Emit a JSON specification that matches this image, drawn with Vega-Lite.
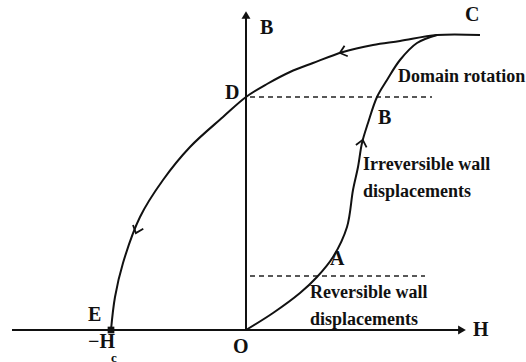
{
  "$schema": "https://vega.github.io/schema/vega-lite/v6.json",
  "width": 526,
  "height": 362,
  "autosize": {"type": "none"},
  "padding": 0,
  "background": "white",
  "config": {"view": {"stroke": null}},
  "datasets": {
    "curves": [
      {"curve": "up", "i": 0, "H": 0, "B": 0},
      {"curve": "up", "i": 1, "H": 2.7, "B": 1.7},
      {"curve": "up", "i": 2, "H": 5.4, "B": 3.7},
      {"curve": "up", "i": 3, "H": 7.1, "B": 5.3},
      {"curve": "up", "i": 4, "H": 8.7, "B": 7.3},
      {"curve": "up", "i": 5, "H": 10.1, "B": 10.3},
      {"curve": "up", "i": 6, "H": 10.7, "B": 14.0},
      {"curve": "up", "i": 7, "H": 11.2, "B": 16.3},
      {"curve": "up", "i": 8, "H": 11.6, "B": 18.7},
      {"curve": "up", "i": 9, "H": 12.2, "B": 20.7},
      {"curve": "up", "i": 10, "H": 13.1, "B": 23.3},
      {"curve": "up", "i": 11, "H": 14.1, "B": 25.0},
      {"curve": "up", "i": 12, "H": 15.4, "B": 27.0},
      {"curve": "up", "i": 13, "H": 17.1, "B": 28.7},
      {"curve": "up", "i": 14, "H": 19.1, "B": 29.5},
      {"curve": "down", "i": 0, "H": 23.4, "B": 29.5},
      {"curve": "down", "i": 1, "H": 19.1, "B": 29.5},
      {"curve": "down", "i": 2, "H": 15.4, "B": 28.9},
      {"curve": "down", "i": 3, "H": 12.7, "B": 28.5},
      {"curve": "down", "i": 4, "H": 9.7, "B": 27.8},
      {"curve": "down", "i": 5, "H": 6.7, "B": 26.7},
      {"curve": "down", "i": 6, "H": 4.4, "B": 25.8},
      {"curve": "down", "i": 7, "H": 2.1, "B": 24.6},
      {"curve": "down", "i": 8, "H": 0, "B": 23.3},
      {"curve": "down", "i": 9, "H": -2.3, "B": 21.3},
      {"curve": "down", "i": 10, "H": -5.6, "B": 18.3},
      {"curve": "down", "i": 11, "H": -8.3, "B": 15.0},
      {"curve": "down", "i": 12, "H": -10.6, "B": 11.3},
      {"curve": "down", "i": 13, "H": -12.3, "B": 6.7},
      {"curve": "down", "i": 14, "H": -13.1, "B": 3.3},
      {"curve": "down", "i": 15, "H": -13.5, "B": 0}
    ],
    "axes": [
      {"name": "H", "H": -23.4, "B": 0, "H2": 21.3, "B2": 0},
      {"name": "B", "H": 0, "B": 0, "H2": 0, "B2": 31.3}
    ],
    "dashes": [
      {"name": "upper", "H": 0.4, "B": 23.3, "H2": 18.6},
      {"name": "lower", "H": 0.4, "B": 5.4, "H2": 17.9}
    ],
    "heads": [
      {"name": "H", "H": 21.6, "B": 0},
      {"name": "B", "H": 0, "B": 31.5}
    ],
    "chevrons": [
      {"name": "CD", "H": 9.7, "B": 27.8},
      {"name": "DE", "H": -10.9, "B": 10.0},
      {"name": "AB", "H": 11.6, "B": 18.7}
    ],
    "labels": [
      {"text": "B", "H": 1.4, "B": 30.2, "kind": "letter"},
      {"text": "H", "H": 22.7, "B": 0, "kind": "letter"},
      {"text": "C", "H": 21.9, "B": 31.5, "kind": "letter"},
      {"text": "D", "H": -2.1, "B": 23.7, "kind": "letter"},
      {"text": "B", "H": 13.2, "B": 21.2, "kind": "letter"},
      {"text": "A", "H": 8.4, "B": 7.1, "kind": "letter"},
      {"text": "E", "H": -15.8, "B": 1.5, "kind": "letter"},
      {"text": "−H", "H": -15.8, "B": -1.2, "kind": "letter"},
      {"text": "O", "H": -1.3, "B": -1.7, "kind": "letter"},
      {"text": "Domain rotation", "H": 15.2, "B": 25.3, "kind": "note"},
      {"text": "Irreversible wall", "H": 11.7, "B": 16.5, "kind": "note"},
      {"text": "displacements", "H": 11.7, "B": 13.8, "kind": "note"},
      {"text": "Reversible wall", "H": 6.4, "B": 3.7, "kind": "note"},
      {"text": "displacements", "H": 6.4, "B": 1.0, "kind": "note"}
    ]
  },
  "layer": [
    {
      "data": {"name": "axes"},
      "mark": {"type": "rule", "color": "#111", "strokeWidth": 2},
      "encoding": {
        "x": {"field": "H", "type": "quantitative", "scale": {"domain": [-24.6, 28.0], "nice": false, "zero": false}, "axis": null},
        "y": {"field": "B", "type": "quantitative", "scale": {"domain": [-3.2, 33.0], "nice": false, "zero": false}, "axis": null},
        "x2": {"field": "H2"},
        "y2": {"field": "B2"}
      }
    },
    {
      "data": {"name": "dashes"},
      "mark": {"type": "rule", "color": "#222", "strokeWidth": 1.6, "strokeDash": [5, 4]},
      "encoding": {
        "x": {"field": "H", "type": "quantitative"},
        "y": {"field": "B", "type": "quantitative"},
        "x2": {"field": "H2"}
      }
    },
    {
      "data": {"name": "curves"},
      "mark": {"type": "line", "color": "#111", "strokeWidth": 2, "interpolate": "catmull-rom"},
      "encoding": {
        "x": {"field": "H", "type": "quantitative"},
        "y": {"field": "B", "type": "quantitative"},
        "detail": {"field": "curve"},
        "order": {"field": "i"}
      }
    },
    {
      "data": {"name": "heads"},
      "transform": [{"filter": "datum.name === 'H'"}],
      "mark": {"type": "point", "shape": "triangle-right", "filled": true, "color": "#111", "size": 80, "opacity": 1},
      "encoding": {
        "x": {"field": "H", "type": "quantitative"},
        "y": {"field": "B", "type": "quantitative"}
      }
    },
    {
      "data": {"name": "heads"},
      "transform": [{"filter": "datum.name === 'B'"}],
      "mark": {"type": "point", "shape": "triangle-up", "filled": true, "color": "#111", "size": 80, "opacity": 1},
      "encoding": {
        "x": {"field": "H", "type": "quantitative"},
        "y": {"field": "B", "type": "quantitative"}
      }
    },
    {
      "data": {"values": [{"H": -13.5, "B": 0}]},
      "mark": {"type": "point", "shape": "square", "filled": true, "color": "#111", "size": 45, "opacity": 1},
      "encoding": {
        "x": {"field": "H", "type": "quantitative"},
        "y": {"field": "B", "type": "quantitative"}
      }
    },
    {
      "data": {"name": "chevrons"},
      "transform": [{"filter": "datum.name === 'CD'"}],
      "mark": {"type": "point", "shape": "M -1 -0.6 L 0 0.6 L 1 -0.6", "filled": false, "color": "#111", "strokeWidth": 1.8, "size": 120, "angle": 73, "opacity": 1},
      "encoding": {
        "x": {"field": "H", "type": "quantitative"},
        "y": {"field": "B", "type": "quantitative"}
      }
    },
    {
      "data": {"name": "chevrons"},
      "transform": [{"filter": "datum.name === 'DE'"}],
      "mark": {"type": "point", "shape": "M -1 -0.6 L 0 0.6 L 1 -0.6", "filled": false, "color": "#111", "strokeWidth": 1.8, "size": 120, "angle": 20, "opacity": 1},
      "encoding": {
        "x": {"field": "H", "type": "quantitative"},
        "y": {"field": "B", "type": "quantitative"}
      }
    },
    {
      "data": {"name": "chevrons"},
      "transform": [{"filter": "datum.name === 'AB'"}],
      "mark": {"type": "point", "shape": "M -1 -0.6 L 0 0.6 L 1 -0.6", "filled": false, "color": "#111", "strokeWidth": 1.8, "size": 120, "angle": 193, "opacity": 1},
      "encoding": {
        "x": {"field": "H", "type": "quantitative"},
        "y": {"field": "B", "type": "quantitative"}
      }
    },
    {
      "data": {"name": "labels"},
      "transform": [{"filter": "datum.kind === 'letter'"}],
      "mark": {"type": "text", "font": "Liberation Serif", "fontSize": 20, "fontWeight": "bold", "align": "left", "baseline": "middle", "color": "#111"},
      "encoding": {
        "x": {"field": "H", "type": "quantitative"},
        "y": {"field": "B", "type": "quantitative"},
        "text": {"field": "text"}
      }
    },
    {
      "data": {"values": [{"text": "c", "H": -13.5, "B": -2.75}]},
      "mark": {"type": "text", "font": "Liberation Serif", "fontSize": 13, "fontWeight": "bold", "align": "left", "baseline": "middle", "color": "#111"},
      "encoding": {
        "x": {"field": "H", "type": "quantitative"},
        "y": {"field": "B", "type": "quantitative"},
        "text": {"field": "text"}
      }
    },
    {
      "data": {"name": "labels"},
      "transform": [{"filter": "datum.kind === 'note'"}],
      "mark": {"type": "text", "font": "Liberation Serif", "fontSize": 18, "fontWeight": "bold", "align": "left", "baseline": "middle", "color": "#111"},
      "encoding": {
        "x": {"field": "H", "type": "quantitative"},
        "y": {"field": "B", "type": "quantitative"},
        "text": {"field": "text"}
      }
    }
  ]
}
